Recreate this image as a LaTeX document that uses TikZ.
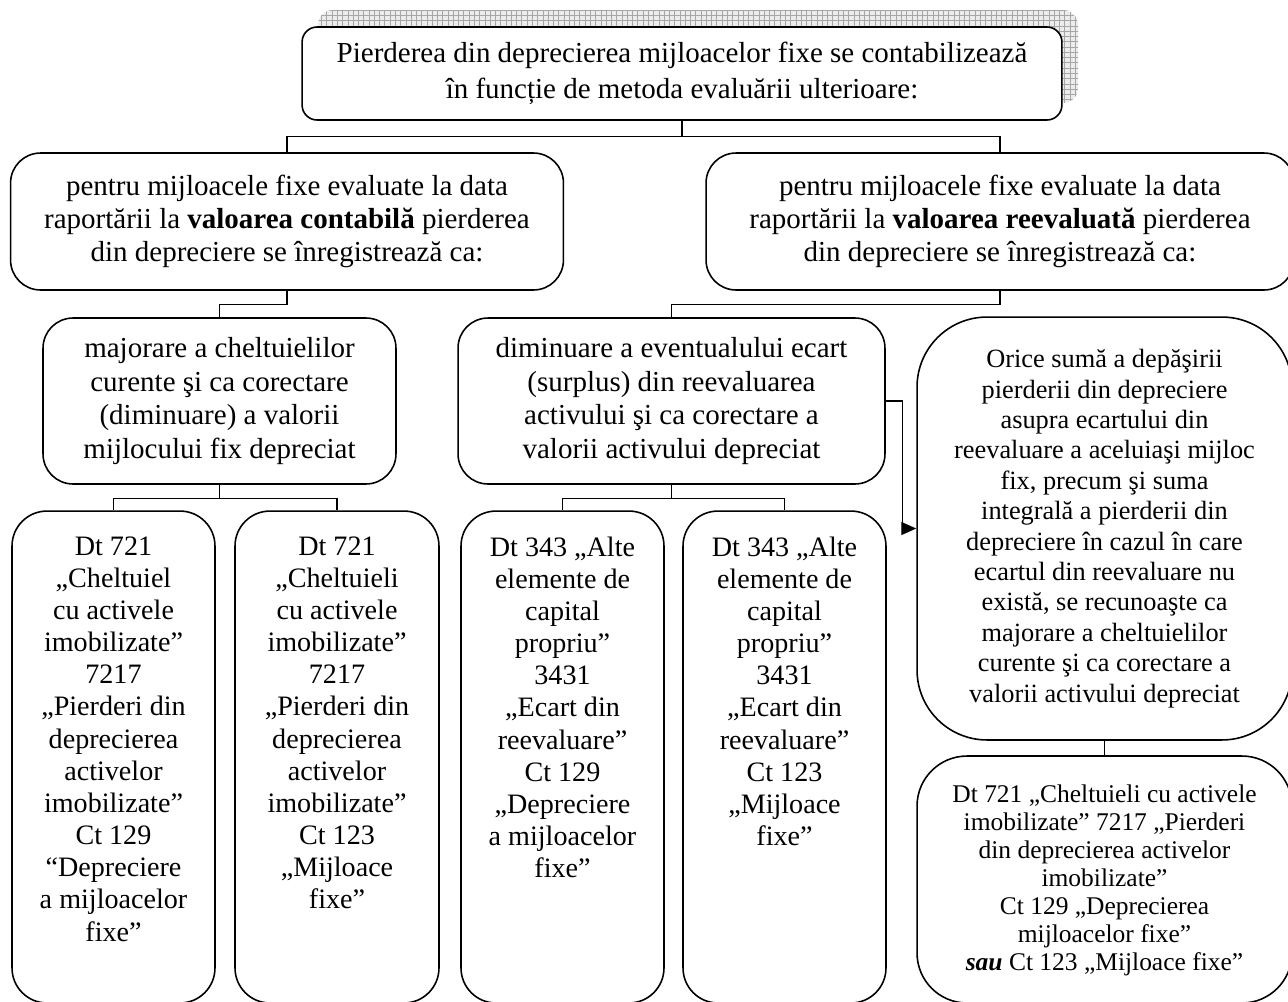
\documentclass[tikz,border=0pt]{standalone}
\usepackage{fontspec}
\setmainfont{Liberation Serif}
\usetikzlibrary{patterns,arrows.meta}

\tikzset{
  box/.style={draw, line width=0.9pt, rounded corners=#1, fill=white, inner sep=0pt},
  box/.default=0.6cm,
  txt/.style={align=center, font=\fontsize{16.5}{19}\selectfont, inner sep=0pt},
  small/.style={font=\fontsize{15}{17.3}\selectfont},
  tiny/.style={font=\fontsize{14.5}{16}\selectfont},
  link/.style={line width=0.75pt},
}

\begin{document}
\begin{tikzpicture}[x=0.02cm, y=-0.02cm]
    \useasboundingbox (0,0) rectangle (1288,1001);

    % Shadow behind the title
    \fill[gray!15, rounded corners=0.3cm] (318,10) rectangle (1078,103);
    \fill[pattern=grid, pattern color=gray!70, rounded corners=0.3cm] (318,10) rectangle (1078,103);

    % Title
    \node[box=0.3cm, txt, font=\fontsize{16.5}{20.3}\selectfont, minimum width=15.2cm, minimum height=1.86cm] (title) at (682,73.5)
        {Pierderea din deprecierea mijloacelor fixe se contabilizează\\în funcție de metoda evaluării ulterioare:};

    % Second level
    \node[box, txt, minimum width=11.06cm, minimum height=2.74cm] (cont) at (287,221.5)
        {pentru mijloacele fixe evaluate la data\\raportării la \textbf{valoarea contabilă} pierderea\\din depreciere se înregistrează ca:};
    \node[box, txt, minimum width=11.76cm, minimum height=2.74cm] (reev) at (1000,221.5)
        {pentru mijloacele fixe evaluate la data\\raportării la \textbf{valoarea reevaluată} pierderea\\din depreciere se înregistrează ca:};

    % Third level
    \node[box, txt, minimum width=7.06cm, minimum height=3.32cm] (major) at (219.5,401)
        {majorare a cheltuielilor\\curente şi ca corectare\\(diminuare) a valorii\\mijlocului fix depreciat};
    \node[box, txt, minimum width=8.54cm, minimum height=3.32cm] (dimin) at (671.5,401)
        {diminuare a eventualului ecart\\(surplus) din reevaluarea\\activului şi ca corectare a\\valorii activului depreciat};
    \node[box=1.4cm, txt, small, minimum width=7.5cm, minimum height=8.46cm] (orice) at (1104.5,528.5)
        {Orice sumă a depăşirii\\pierderii din depreciere\\asupra ecartului din\\reevaluare a aceluiaşi mijloc\\fix, precum şi suma\\integrală a pierderii din\\depreciere în cazul în care\\ecartul din reevaluare nu\\există, se recunoaşte ca\\majorare a cheltuielilor\\curente şi ca corectare a\\valorii activului depreciat};

    % Bottom level (boxes run off the page)
    \node[box=0.7cm, minimum width=4.06cm, minimum height=9.84cm] (inreg1) at (113.5,757) {};
    \node[box=0.7cm, minimum width=4.08cm, minimum height=9.84cm] (inreg2) at (337,757) {};
    \node[box=0.7cm, minimum width=4.06cm, minimum height=9.84cm] (inreg3) at (562.5,757) {};
    \node[box=0.7cm, minimum width=4.06cm, minimum height=9.84cm] (inreg4) at (784.5,757) {};
    \node[box=1.0cm, minimum width=7.5cm, minimum height=4.94cm] (inreg5) at (1104.5,879.5) {};

    \node[txt, font=\fontsize{16}{18.3}\selectfont, anchor=north] (text1) at ([yshift=-0.52cm]inreg1.north)
        {Dt 721\\„Cheltuiel\\cu activele\\imobilizate”\\7217\\„Pierderi din\\deprecierea\\activelor\\imobilizate”\\Ct 129\\“Depreciere\\a mijloacelor\\fixe”};
    \node[txt, font=\fontsize{16}{18.3}\selectfont, anchor=north] (text2) at ([yshift=-0.52cm]inreg2.north)
        {Dt 721\\„Cheltuieli\\cu activele\\imobilizate”\\7217\\„Pierderi din\\deprecierea\\activelor\\imobilizate”\\Ct 123\\„Mijloace\\fixe”};
    \node[txt, font=\fontsize{16}{18.3}\selectfont, anchor=north] (text3) at ([yshift=-0.52cm]inreg3.north)
        {Dt 343 „Alte\\elemente de\\capital\\propriu”\\3431\\„Ecart din\\reevaluare”\\Ct 129\\„Depreciere\\a mijloacelor\\fixe”};
    \node[txt, font=\fontsize{16}{18.3}\selectfont, anchor=north] (text4) at ([yshift=-0.52cm]inreg4.north)
        {Dt 343 „Alte\\elemente de\\capital\\propriu”\\3431\\„Ecart din\\reevaluare”\\Ct 123\\„Mijloace\\fixe”};
    \node[txt, tiny, anchor=north] (text5) at ([yshift=-0.58cm]inreg5.north)
        {Dt 721 „Cheltuieli cu activele\\imobilizate” 7217 „Pierderi\\din deprecierea activelor\\imobilizate”\\Ct 129 „Deprecierea\\mijloacelor fixe”\\\textbf{\textit{sau}} Ct 123 „Mijloace fixe”};

    % Connectors
    \draw[link] (title.south) -- ++(0,16) -| (cont.north);
    \draw[link] (title.south) -- ++(0,16) -| (reev.north);
    \draw[link] (cont.south) -- ++(0,14) -| (major.north);
    \draw[link] (reev.south) -- ++(0,14) -| (dimin.north);
    \draw[link] (major.south) -- ++(0,14) -| (inreg1.north);
    \draw[link] (major.south) -- ++(0,14) -| (inreg2.north);
    \draw[link] (dimin.south) -- ++(0,14) -| (inreg3.north);
    \draw[link] (dimin.south) -- ++(0,14) -| (inreg4.north);
    \draw[link] (orice.south) -- (inreg5.north);

    % Arrow into the right box
    \draw[link, -{Triangle[length=0.3cm, width=0.26cm]}] (dimin.east) -- ++(17,0) |- (orice.west);
\end{tikzpicture}
\end{document}
